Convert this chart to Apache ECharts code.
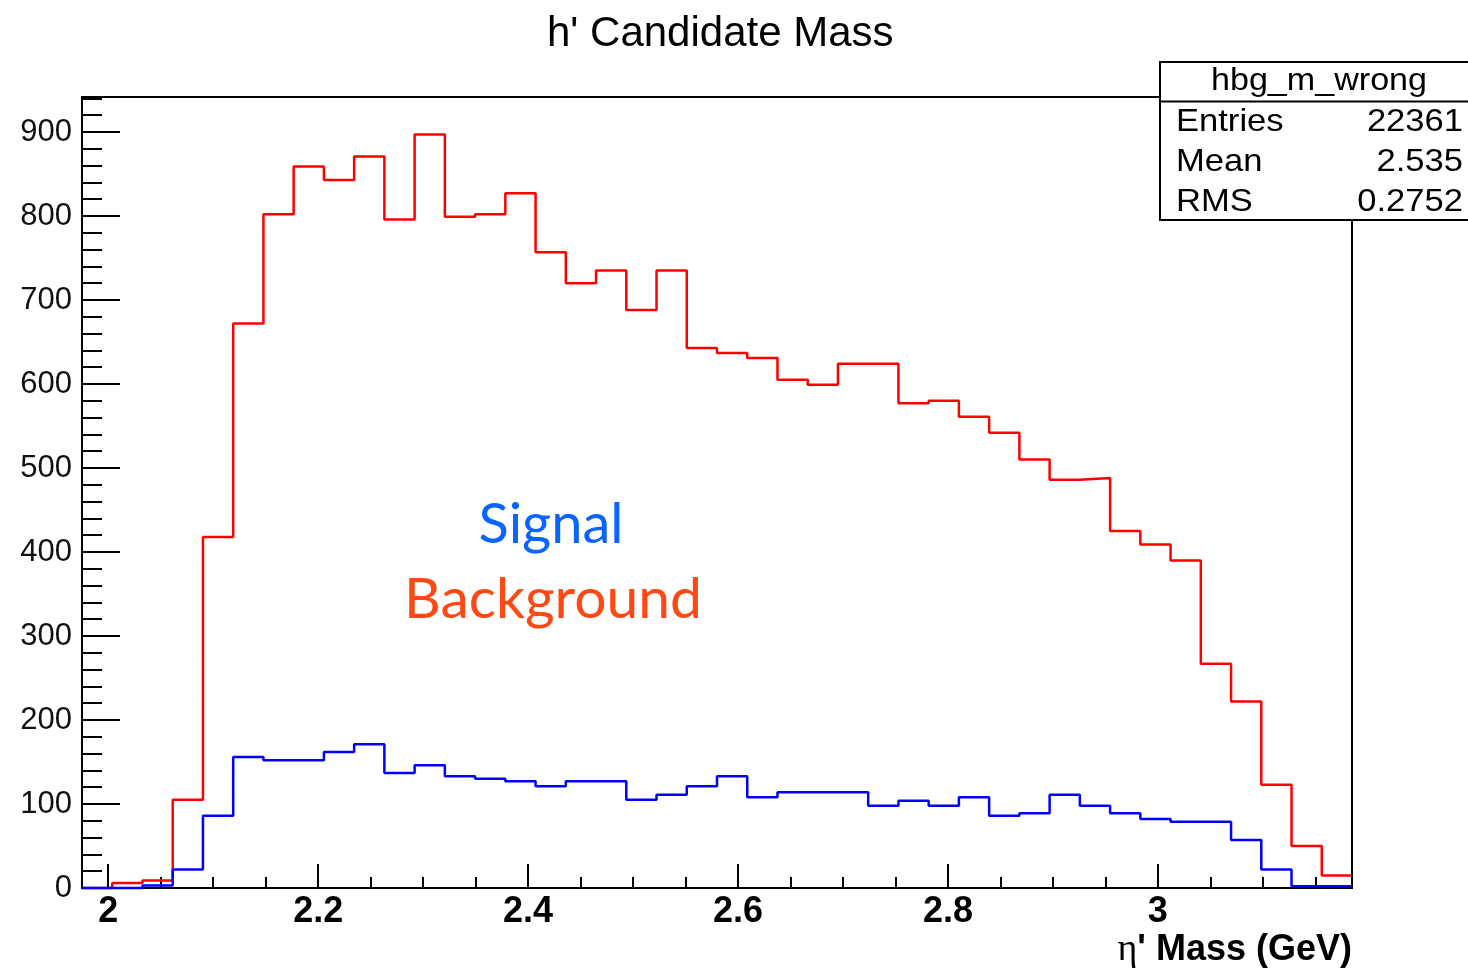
<!DOCTYPE html>
<html><head><meta charset="utf-8">
<script src="https://cdn.jsdelivr.net/npm/echarts@6/dist/echarts.min.js"></script>
<style>html,body{margin:0;padding:0;background:#fff}#c{width:1468px;height:968px}</style>
</head><body><div id="c"></div>
<script>
// Histogram binning (axis range of the histogram)
const histMin = 1.975;
const histMax = 3.185;
const nBins = 42;

// Background (red) bin contents
const background = [0, 6, 9, 105, 418, 672, 802, 859, 843, 871,
  796, 897, 799, 802, 827, 757, 720, 735, 688, 735,
  643, 637, 631, 605, 599, 624, 624, 577, 580, 561,
  542, 510, 486, 488, 425, 409, 390, 267, 222, 123,
  50, 15];

// Signal (blue) bin contents
const signal = [0, 0, 3, 22, 86, 156, 152, 152, 162, 171,
  137, 146, 133, 130, 127, 121, 127, 127, 105, 111,
  121, 133, 108, 114, 114, 114, 98, 104, 98, 108,
  86, 89, 111, 98, 89, 82, 79, 79, 57, 22,
  2, 2];

const yMax = 941.7;
const titleText = "h' Candidate Mass";
const xTitleSymbol = "\u03b7";
const xTitleRest = "' Mass (GeV)";
const statsName = "hbg_m_wrong";
const statsLabels = ["Entries", "Mean", "RMS"];
const statsValues = ["22361", "2.535", "0.2752"];
const legendLabels = ["Signal", "Background"];

function toSteps(vals) {
  const w = (histMax - histMin) / nBins;
  const pts = vals.map((v, i) => [histMin + i * w, v]);
  pts.push([histMax, vals[vals.length - 1]]);
  return pts;
}

const FONT = '"Liberation Sans", Arial, Helvetica, sans-serif';
const chart = echarts.init(document.getElementById('c'), null, {renderer: 'canvas'});

const graphics = [
  {type: 'rect', z: 100, shape: {x: 1160, y: 62, width: 330, height: 158},
   style: {fill: '#fff', stroke: '#000', lineWidth: 2}},
  {type: 'line', z: 101, shape: {x1: 1160, y1: 101.5, x2: 1490, y2: 101.5},
   style: {stroke: '#000', lineWidth: 2}},
  {type: 'text', z: 102, x: 1319, y: 81, scaleX: 1.1,
   style: {text: statsName, font: '31px ' + FONT, fill: '#000', align: 'center', verticalAlign: 'middle'}},
  {type: 'text', x: 551, y: 525, z: 50,
   style: {text: legendLabels[0], font: '56px Lato, "Open Sans", sans-serif', fill: '#0a64ff', align: 'center', verticalAlign: 'middle'}},
  {type: 'text', x: 553, y: 600, z: 50,
   style: {text: legendLabels[1], font: '57px Lato, "Open Sans", sans-serif', fill: '#ff4814', align: 'center', verticalAlign: 'middle'}},
  {type: 'text', x: 1352, y: 950, z: 50,
   style: {text: '{s|' + xTitleSymbol + '}{b|' + xTitleRest + '}', align: 'right', verticalAlign: 'middle',
     rich: {
       s: {fontFamily: '"Liberation Serif", "DejaVu Serif", serif', fontSize: 38, fontWeight: 'normal', fill: '#000'},
       b: {fontFamily: FONT, fontSize: 36, fontWeight: 'bold', fill: '#000'}
     }}}
];
statsLabels.forEach((l, i) => {
  graphics.push({type: 'text', z: 102, x: 1176, y: 122 + i * 40, scaleX: 1.08,
    style: {text: l, font: '32px ' + FONT, fill: '#000', align: 'left', verticalAlign: 'middle'}});
  graphics.push({type: 'text', z: 102, x: 1463, y: 122 + i * 40, scaleX: 1.08,
    style: {text: statsValues[i], font: '32px ' + FONT, fill: '#000', align: 'right', verticalAlign: 'middle'}});
});

chart.setOption({
  animation: false,
  backgroundColor: '#fff',
  title: {text: titleText, left: 542, top: 8,
    textStyle: {fontFamily: FONT, fontSize: 42, fontWeight: 'normal', color: '#000'}},
  grid: {left: 82, right: 116, top: 97, bottom: 80, show: true, borderColor: '#000', borderWidth: 2, containLabel: false},
  xAxis: {
    type: 'value', min: histMin, max: histMax,
    axisLine: {show: true, lineStyle: {color: '#000', width: 2}},
    axisTick: {show: true, inside: true, length: 24, lineStyle: {color: '#000', width: 2}},
    minorTick: {show: true, splitNumber: 4, length: 11, lineStyle: {color: '#000', width: 2}},
    axisLabel: {showMinLabel: false, showMaxLabel: false, fontFamily: FONT, fontSize: 36, fontWeight: 'bold', color: '#000', margin: 6},
    splitLine: {show: false}
  },
  yAxis: {
    type: 'value', min: 0, max: yMax, interval: 100,
    axisLine: {show: true, lineStyle: {color: '#000', width: 2}},
    axisTick: {show: true, inside: true, length: 38, lineStyle: {color: '#000', width: 2}},
    minorTick: {show: true, splitNumber: 5, length: 20, lineStyle: {color: '#000', width: 2}},
    axisLabel: {showMaxLabel: false, fontFamily: FONT, fontSize: 31, color: '#111', margin: 10},
    splitLine: {show: false}
  },
  series: [
    {type: 'line', name: 'Background', step: 'end', data: toSteps(background), symbol: 'none', clip: false,
     lineStyle: {color: '#ff0000', width: 2.5}, z: 3},
    {type: 'line', name: 'Signal', step: 'end', data: toSteps(signal), symbol: 'none', clip: false,
     lineStyle: {color: '#0000ff', width: 2.5}, z: 4}
  ],
  graphic: graphics
});
</script></body></html>
